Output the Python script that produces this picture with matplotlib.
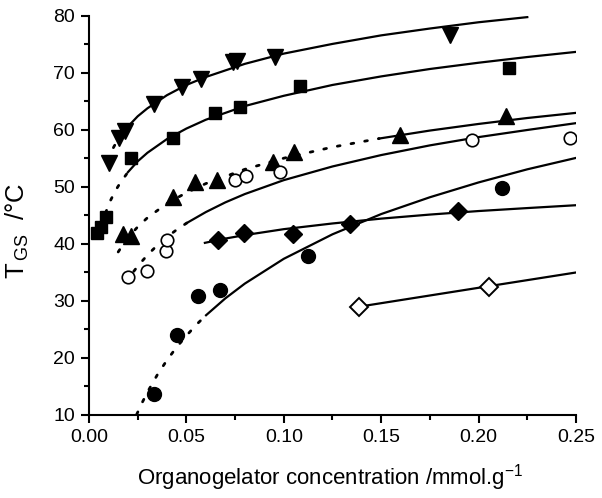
import matplotlib
matplotlib.use("Agg")
import matplotlib.pyplot as plt
from matplotlib.ticker import MultipleLocator

plt.rcParams['font.family'] = ['Liberation Sans', 'DejaVu Sans']
plt.rcParams['mathtext.fontset'] = 'custom'
plt.rcParams['mathtext.rm'] = 'Liberation Sans'
plt.rcParams['mathtext.it'] = 'Liberation Sans:italic'

# ---- data points ----
tri_down_x = [0.0103, 0.0154, 0.0185, 0.0334, 0.0477, 0.0575, 0.0739, 0.0760, 0.0955, 0.1853]
tri_down_y = [54.2, 58.6, 59.8, 64.6, 67.5, 69.0, 71.9, 72.1, 72.8, 76.7]

square_x = [0.0041, 0.0062, 0.0087, 0.0216, 0.0431, 0.0647, 0.0775, 0.1083, 0.2156]
square_y = [41.9, 43.0, 44.7, 55.1, 58.6, 63.0, 64.0, 67.7, 70.9]

tri_up_x = [0.0175, 0.0216, 0.0431, 0.0544, 0.0657, 0.0945, 0.1052, 0.1597, 0.2141]
tri_up_y = [41.8, 41.4, 48.2, 50.9, 51.2, 54.4, 56.1, 59.1, 62.5]

open_circ_x = [0.0200, 0.0298, 0.0395, 0.0400, 0.0749, 0.0806, 0.0980, 0.1966, 0.2469]
open_circ_y = [34.2, 35.3, 38.8, 40.7, 51.2, 51.9, 52.6, 58.2, 58.6]

circ_x = [0.0334, 0.0452, 0.0560, 0.0672, 0.1124, 0.2120]
circ_y = [13.7, 24.0, 30.9, 31.9, 37.9, 49.8]

diam_x = [0.0662, 0.0796, 0.1047, 0.1340, 0.1894]
diam_y = [40.7, 41.9, 41.8, 43.5, 45.8]

open_diam_x = [0.1386, 0.2053]
open_diam_y = [28.95, 32.5]

# ---- fitted curves ----
c_td_dot_x = [0.0095, 0.011, 0.013, 0.015, 0.017]
c_td_dot_y = [54.7, 55.9, 57.2, 58.3, 59.3]
c_td_x = [0.017, 0.02, 0.025, 0.03, 0.04, 0.05, 0.06, 0.08, 0.1, 0.125, 0.15, 0.175, 0.2, 0.225]
c_td_y = [59.3, 60.6, 62.4, 63.8, 66.1, 67.9, 69.3, 71.6, 73.4, 75.1, 76.6, 77.8, 78.9, 79.8]

c_sq_dot_x = [0.0085, 0.011, 0.0135, 0.016, 0.02]
c_sq_dot_y = [45.45, 47.6, 49.3, 50.7, 52.6]
c_sq_x = [0.02, 0.025, 0.03, 0.04, 0.05, 0.06, 0.08, 0.1, 0.125, 0.15, 0.175, 0.2, 0.225, 0.25]
c_sq_y = [52.6, 54.5, 56.0, 58.4, 60.25, 61.8, 64.2, 66.0, 67.9, 69.4, 70.7, 71.8, 72.8, 73.7]

c_tu_dot_x = [0.015, 0.0175, 0.02, 0.025, 0.03, 0.04, 0.05, 0.06, 0.08, 0.1, 0.125, 0.149]
c_tu_dot_y = [38.6, 39.9, 41.1, 43.0, 44.6, 47.1, 49.0, 50.6, 53.1, 55.05, 57.0, 58.5]
c_tu_x = [0.149, 0.175, 0.2, 0.225, 0.25]
c_tu_y = [58.5, 59.9, 61.06, 62.1, 63.0]

c_oc_dot_x = [0.023, 0.025, 0.03, 0.035, 0.04, 0.045, 0.0503]
c_oc_dot_y = [35.2, 36.1, 38.06, 39.75, 41.2, 42.5, 43.7]
c_oc_x = [0.0503, 0.06, 0.07, 0.08, 0.1, 0.125, 0.15, 0.175, 0.2, 0.225, 0.25]
c_oc_y = [43.7, 45.6, 47.3, 48.76, 51.2, 53.6, 55.6, 57.3, 58.75, 60.0, 61.2]

c_c_dot_x = [0.0245, 0.0275, 0.03, 0.035, 0.04, 0.045, 0.05, 0.055, 0.0601]
c_c_dot_y = [10.1, 12.3, 14.0, 17.0, 19.6, 21.9, 23.9, 25.8, 27.5]
c_c_x = [0.0601, 0.07, 0.08, 0.1, 0.125, 0.15, 0.175, 0.2, 0.225, 0.25]
c_c_y = [27.5, 30.46, 33.05, 37.4, 41.7, 45.25, 48.2, 50.8, 53.1, 55.1]

c_d_x = [0.0595, 0.07, 0.08, 0.1, 0.125, 0.15, 0.175, 0.2, 0.225, 0.25]
c_d_y = [40.2, 40.95, 41.56, 42.6, 43.6, 44.45, 45.16, 45.78, 46.3, 46.8]

c_od_x = [0.1386, 0.2053, 0.25]
c_od_y = [29.0, 32.6, 35.0]

x_ticks = [0.00, 0.05, 0.10, 0.15, 0.20, 0.25]
y_ticks = [10, 20, 30, 40, 50, 60, 70, 80]

fig = plt.figure(figsize=(6.02, 4.98), dpi=100)
ax = fig.add_axes([0.1478, 0.1667, 0.809, 0.8012])

lw = 1.6
dot = dict(color='black', lw=2.0, linestyle=(0, (1, 4)), dash_capstyle='round')
sol = dict(color='black', lw=lw)

for xs, ys in [(c_td_dot_x, c_td_dot_y), (c_sq_dot_x, c_sq_dot_y), (c_tu_dot_x, c_tu_dot_y),
               (c_oc_dot_x, c_oc_dot_y), (c_c_dot_x, c_c_dot_y)]:
    ax.plot(xs, ys, **dot)
for xs, ys in [(c_td_x, c_td_y), (c_sq_x, c_sq_y), (c_tu_x, c_tu_y), (c_oc_x, c_oc_y),
               (c_c_x, c_c_y), (c_d_x, c_d_y), (c_od_x, c_od_y)]:
    ax.plot(xs, ys, **sol)

ax.plot(tri_down_x, tri_down_y, 'v', color='black', ms=12, ls='none', zorder=5)
ax.plot(square_x, square_y, 's', color='black', ms=9, ls='none', zorder=5)
ax.plot(tri_up_x, tri_up_y, '^', color='black', ms=11.5, ls='none', zorder=5)
ax.plot(open_circ_x, open_circ_y, 'o', mfc='white', mec='black', mew=1.2, ms=9, ls='none', zorder=5)
ax.plot(circ_x, circ_y, 'o', color='black', ms=10, ls='none', zorder=5)
ax.plot(diam_x, diam_y, 'D', color='black', ms=9, ls='none', zorder=5)
ax.plot(open_diam_x, open_diam_y, 'D', mfc='white', mec='black', mew=1.4, ms=9, ls='none', zorder=5)

ax.set_xlim(0, 0.25)
ax.set_ylim(10, 80)
ax.set_xticks(x_ticks)
ax.set_xticklabels([f'{v:.2f}' for v in x_ticks])
ax.set_yticks(y_ticks)
ax.xaxis.set_minor_locator(MultipleLocator(0.025))
ax.yaxis.set_minor_locator(MultipleLocator(5))
for s in ['top', 'right']:
    ax.spines[s].set_visible(False)
for s in ['left', 'bottom']:
    ax.spines[s].set_linewidth(1.5)
ax.tick_params(which='major', direction='out', length=6, width=1.5, labelsize=14, pad=4)
ax.tick_params(which='minor', direction='out', length=3.5, width=1.5)

ax.set_xlabel('Organogelator concentration /mmol.g$^{-1}$', fontsize=16)
ax.set_ylabel(r'T$_{\,\mathrm{GS}}$  /°C', fontsize=18.5)
ax.xaxis.label.set_va('center')
ax.xaxis.label.set_ha('center')
ax.xaxis.set_label_coords(0.496, -0.158)
ax.yaxis.label.set_va('center')
ax.yaxis.label.set_ha('center')
ax.yaxis.set_label_coords(-0.146, 0.462)

fig.savefig('out.png', dpi=100)
